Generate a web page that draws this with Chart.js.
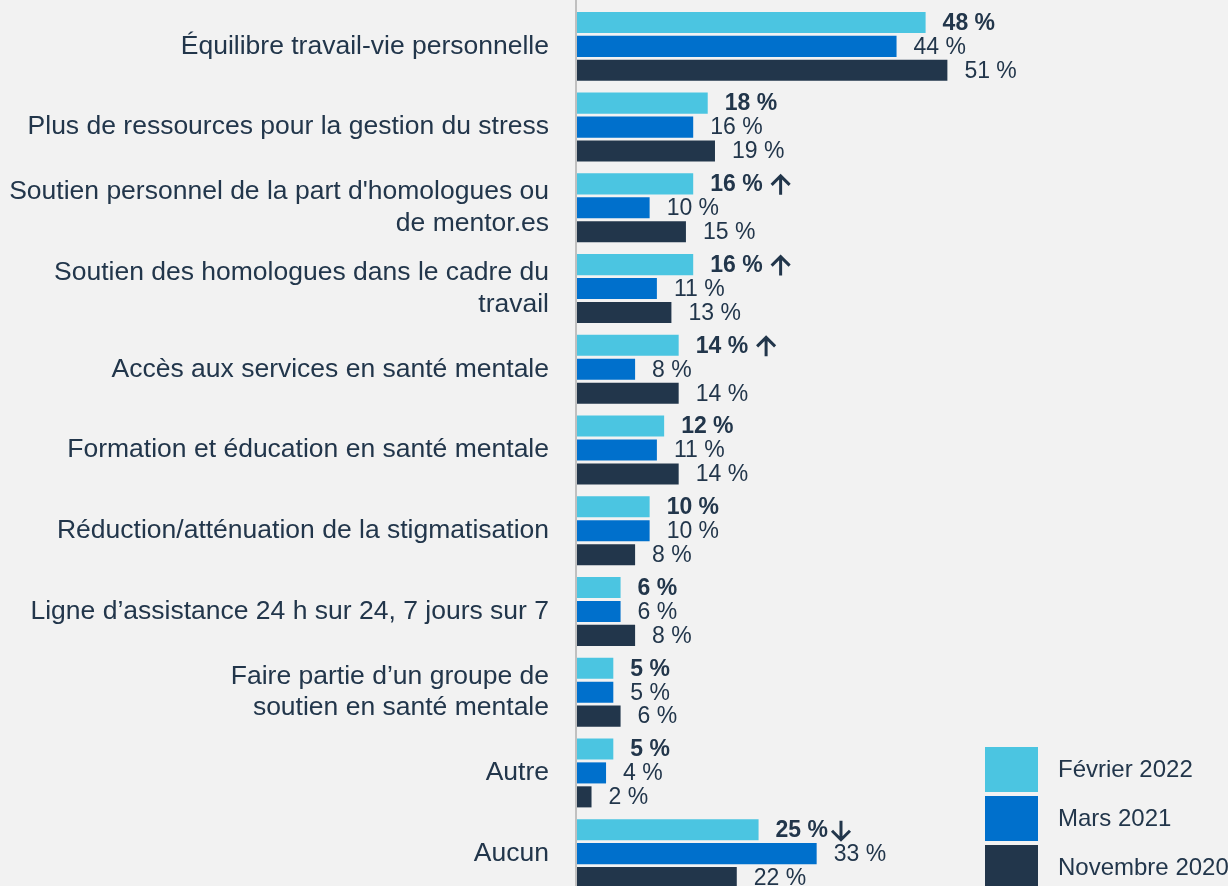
<!DOCTYPE html>
<html>
<head>
<meta charset="utf-8">
<script src="https://cdn.jsdelivr.net/npm/chart.js@4/dist/chart.umd.min.js"></script>
<style>
  html, body { margin: 0; padding: 0; background: #f2f2f2; overflow: hidden; }
  #wrap { position: relative; width: 1228px; height: 894px; }
</style>
</head>
<body>
<div id="wrap"><canvas id="c"></canvas></div>
<script>
const categories = [
  'Équilibre travail-vie personnelle',
  'Plus de ressources pour la gestion du stress',
  ["Soutien personnel de la part d'homologues ou", 'de mentor.es'],
  ['Soutien des homologues dans le cadre du', 'travail'],
  'Accès aux services en santé mentale',
  'Formation et éducation en santé mentale',
  'Réduction/atténuation de la stigmatisation',
  'Ligne d’assistance 24 h sur 24, 7 jours sur 7',
  ['Faire partie d’un groupe de', 'soutien en santé mentale'],
  'Autre',
  'Aucun'
];
const seriesLabels = ['Février 2022', 'Mars 2021', 'Novembre 2020'];
const fevrier2022 = [48, 18, 16, 16, 14, 12, 10, 6, 5, 5, 25];
const mars2021   = [44, 16, 10, 11, 8, 11, 10, 6, 5, 4, 33];
const nov2020    = [51, 19, 15, 13, 14, 14, 8, 8, 6, 2, 22];
const trends     = ['', '', 'up', 'up', 'up', '', '', '', '', '', 'down'];

const colors = ['#4bc5e1', '#0070cc', '#22364b'];
const textColor = '#22364b';
const FONT = "'Liberation Sans', Arial, sans-serif";

const overlay = {
  id: 'overlay',
  beforeDraw(chart) {
    const ctx = chart.ctx;
    ctx.save();
    ctx.fillStyle = '#f2f2f2';
    ctx.fillRect(0, 0, chart.width, chart.height);
    ctx.restore();
  },
  afterDatasetsDraw(chart) {
    const ctx = chart.ctx;
    const area = chart.chartArea;
    ctx.save();
    // axis line
    ctx.strokeStyle = '#c0c0c0';
    ctx.lineWidth = 2;
    ctx.beginPath();
    ctx.moveTo(area.left - 1, 0);
    ctx.lineTo(area.left - 1, chart.height);
    ctx.stroke();

    // value labels
    ctx.textBaseline = 'middle';
    ctx.textAlign = 'left';
    ctx.fillStyle = textColor;
    chart.data.datasets.forEach((ds, di) => {
      const meta = chart.getDatasetMeta(di);
      ctx.font = (di === 0 ? 'bold ' : '') + '23px ' + FONT;
      meta.data.forEach((bar, i) => {
        const txt = ds.data[i] + ' %';
        const x = bar.x + 17;
        const y = bar.y + 1;
        ctx.fillText(txt, x, y);
        if (di === 0 && trends[i]) {
          const w = ctx.measureText(txt).width;
          const cx = x + w + (trends[i] === 'up' ? 18 : 13);
          const cy = bar.y + 1;
          ctx.strokeStyle = textColor;
          ctx.lineWidth = 3;
          ctx.lineCap = 'butt';
          ctx.lineJoin = 'miter';
          ctx.beginPath();
          if (trends[i] === 'up') {
            ctx.moveTo(cx, cy + 10); ctx.lineTo(cx, cy - 8);
            ctx.moveTo(cx - 9, cy); ctx.lineTo(cx, cy - 9); ctx.lineTo(cx + 9, cy);
          } else {
            ctx.moveTo(cx, cy - 10); ctx.lineTo(cx, cy + 8);
            ctx.moveTo(cx - 9, cy); ctx.lineTo(cx, cy + 9); ctx.lineTo(cx + 9, cy);
          }
          ctx.stroke();
        }
      });
    });

    // legend
    const lx = 985, ly = 747, bw = 53, bh = 45, pitch = 49;
    chart.data.datasets.forEach((ds, di) => {
      const y = ly + di * pitch;
      ctx.fillStyle = ds.backgroundColor;
      ctx.fillRect(lx, y, bw, bh);
      ctx.fillStyle = textColor;
      ctx.font = '24px ' + FONT;
      ctx.textBaseline = 'middle';
      ctx.fillText(ds.label, 1058, y + bh / 2 + 1);
    });
    ctx.restore();
  }
};

new Chart(document.getElementById('c'), {
  type: 'bar',
  data: {
    labels: categories,
    datasets: [
      { label: seriesLabels[0], data: fevrier2022, backgroundColor: colors[0] },
      { label: seriesLabels[1], data: mars2021, backgroundColor: colors[1] },
      { label: seriesLabels[2], data: nov2020, backgroundColor: colors[2] }
    ]
  },
  options: {
    indexAxis: 'y',
    responsive: true,
    maintainAspectRatio: false,
    animation: false,
    events: [],
    layout: { padding: { top: 6, right: 70, bottom: 0, left: 0 } },
    datasets: { bar: { categoryPercentage: 0.89, barPercentage: 0.88 } },
    plugins: { legend: { display: false }, tooltip: { enabled: false } },
    scales: {
      x: { display: false, min: 0, max: 80 },
      y: {
        grid: { display: false, drawTicks: false },
        border: { display: false },
        ticks: {
          color: textColor,
          padding: 28,
          font: { family: FONT, size: 26.5, lineHeight: 1.2 }
        },
        afterFit(scale) {
          scale.width = 577;
          scale.paddingTop = 0;
          scale.paddingBottom = 0;
        }
      }
    }
  },
  plugins: [overlay]
});
</script>
</body>
</html>
